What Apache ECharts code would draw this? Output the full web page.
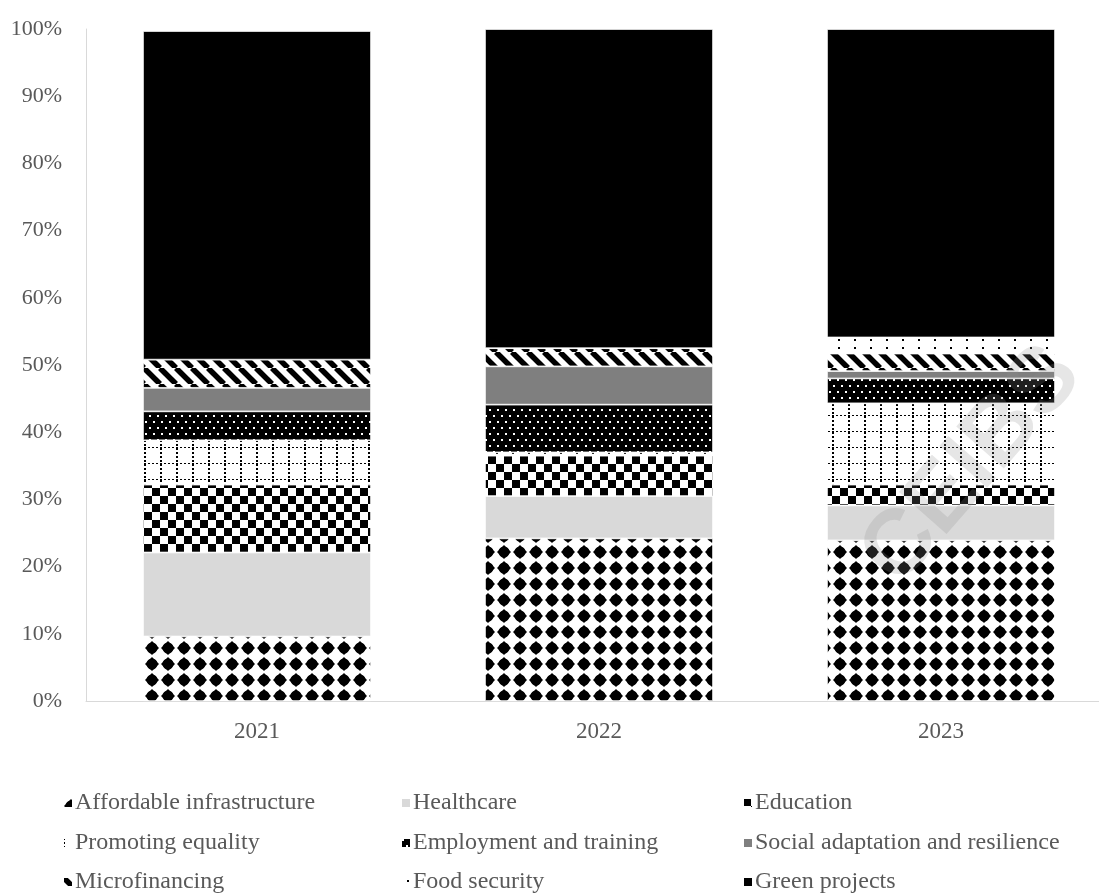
<!DOCTYPE html>
<html>
<head>
<meta charset="utf-8">
<script src="https://cdn.jsdelivr.net/npm/echarts@6/dist/echarts.min.js"></script>
<style>html,body{margin:0;padding:0;background:#fff;}#c{width:1099px;height:893px;}</style>
</head>
<body>
<div id="c"></div>
<script>
// ---- data ----
const years = ['2021', '2022', '2023'];
const seriesNames = ['Affordable infrastructure', 'Healthcare', 'Education', 'Promoting equality',
  'Employment and training', 'Social adaptation and resilience', 'Microfinancing', 'Food security', 'Green projects'];
const affordableInfrastructure = [9.6, 24.2, 23.9];
const healthcare = [12.5, 6.3, 5.2];
const education = [10.1, 6.0, 3.1];
const promotingEquality = [6.6, 0.5, 12.1];
const employmentTraining = [4.3, 7.1, 3.7];
const socialAdaptation = [3.5, 5.7, 1.1];
const microfinancing = [4.2, 2.7, 2.6];
const foodSecurity = [0.0, 0.0, 2.4];
const greenProjects = [48.9, 47.5, 45.9];
const yTicks = [0, 10, 20, 30, 40, 50, 60, 70, 80, 90, 100];

// ---- patterns ----
function tile(w, h, bg, draw) {
  const c = document.createElement('canvas');
  c.width = w; c.height = h;
  const g = c.getContext('2d');
  g.fillStyle = bg; g.fillRect(0, 0, w, h);
  g.fillStyle = '#000'; g.strokeStyle = '#000';
  draw(g);
  return { image: c, repeat: 'repeat' };
}
const patDiamond = tile(16, 16, '#fff', g => {
  g.beginPath(); g.moveTo(8, 1); g.lineTo(15, 8); g.lineTo(8, 15); g.lineTo(1, 8); g.closePath(); g.fill();
  g.beginPath(); g.arc(8, 8, 5.5, 0, Math.PI * 2); g.fill();
});
const patChecker = tile(16, 16, '#fff', g => { g.fillRect(0, 0, 8, 8); g.fillRect(8, 8, 8, 8); });
const patGrid = tile(16, 16, '#fff', g => {
  for (let x = 0; x < 16; x += 4) g.fillRect(x, 15, 2, 1);
  for (let y = 0; y < 16; y += 4) g.fillRect(0, y, 2, 2);
});
const patDots = tile(8, 12, '#000', g => {
  g.fillStyle = '#fff'; g.fillRect(1, 1, 2, 2); g.fillRect(5, 7, 2, 2);
});
const patStripe = tile(16, 16, '#fff', g => {
  g.lineWidth = 5.5;
  [-16, 0, 16].forEach(x0 => { g.beginPath(); g.moveTo(x0, 0); g.lineTo(x0 + 16, 16); g.stroke(); });
});
const patSparse = tile(16, 8, '#fff', g => { g.fillRect(6, 3, 2, 2); });

const fills = [patDiamond, '#d9d9d9', patChecker, patGrid, patDots, '#7f7f7f', patStripe, patSparse, '#000'];
const values = [affordableInfrastructure, healthcare, education, promotingEquality, employmentTraining,
  socialAdaptation, microfinancing, foodSecurity, greenProjects];

const font = 'Liberation Serif, Times New Roman, serif';
const txt = { fontFamily: font, fontSize: 22, color: '#595959' };

const chart = echarts.init(document.getElementById('c'), null, { renderer: 'canvas' });
const colLeft = [62, 400, 742];
const rowTop = [791, 831, 870];
chart.setOption({
  backgroundColor: '#fff',
  animation: false,
  grid: { left: 86, top: 29, width: 1026, height: 672, outerBoundsMode: 'none', containLabel: false },
  xAxis: {
    type: 'category', data: years,
    axisLine: { lineStyle: { color: '#d9d9d9', width: 1 } },
    axisTick: { show: false },
    axisLabel: Object.assign({ margin: 19 }, txt, { fontSize: 23 })
  },
  yAxis: {
    type: 'value', min: 0, max: 100, interval: 10,
    splitLine: { show: false },
    axisLine: { show: true, lineStyle: { color: '#d9d9d9', width: 1 } },
    axisTick: { show: false },
    axisLabel: Object.assign({ margin: 24, formatter: v => yTicks.includes(v) ? v + '%' : '' }, txt)
  },
  legend: seriesNames.map((name, k) => ({
    orient: 'horizontal', left: colLeft[k % 3], top: rowTop[Math.floor(k / 3)],
    itemWidth: 10, itemHeight: 10, itemGap: 0, padding: 0,
    icon: 'rect', selectedMode: false,
    textStyle: Object.assign({ lineHeight: 24, padding: [0, 0, 0, -3] }, txt, { fontSize: 24 }),
    data: [name]
  })),
  graphic: [{
    type: 'text', left: 845, top: 330, rotation: 0.85, z: 100, silent: true,
    style: { text: 'CEIBS', font: 'bold 92px Liberation Sans, Arial, sans-serif', fill: 'rgba(140,140,140,0.22)' }
  }],
  series: seriesNames.map((name, k) => ({
    name, type: 'bar', stack: 'total', barWidth: 228,
    data: values[k],
    itemStyle: { color: fills[k], borderColor: '#fff', borderWidth: 0.75 },
    emphasis: { disabled: true }
  }))
});
</script>
</body>
</html>
